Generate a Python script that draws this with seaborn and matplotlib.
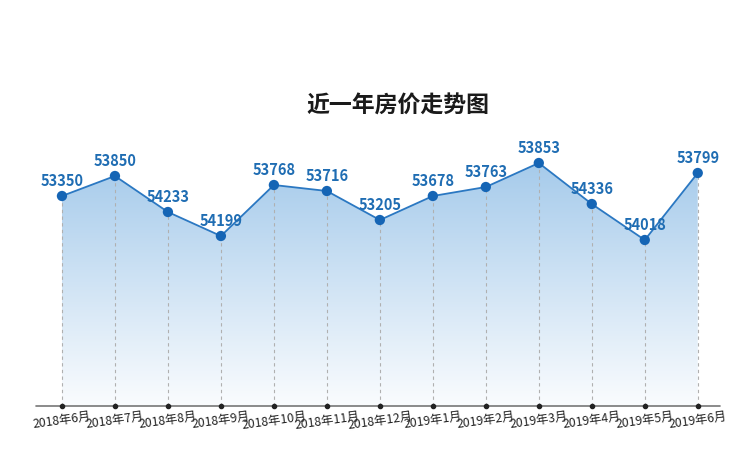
import numpy as np
import pandas as pd
import matplotlib
matplotlib.use("Agg")
import matplotlib.pyplot as plt
import seaborn as sns
from matplotlib.patches import Polygon

# months, price labels and the curve heights as drawn in the picture
months = ["2018年6月", "2018年7月", "2018年8月", "2018年9月", "2018年10月", "2018年11月",
          "2018年12月", "2019年1月", "2019年2月", "2019年3月", "2019年4月", "2019年5月", "2019年6月"]
prices = [53350, 53850, 54233, 54199, 53768, 53716, 53205, 53678, 53763, 53853, 54336, 54018, 53799]
levels = [210, 230, 194, 170, 221, 215, 186, 210, 219, 243, 202, 166, 233]

df = pd.DataFrame({"month": months, "price": prices, "level": levels})
df["pos"] = range(len(df))

sns.set_theme(style="white")
plt.rcParams['font.family'] = ['Noto Sans CJK SC', 'DejaVu Sans']

fig = plt.figure(figsize=(7.4, 4.62), dpi=100)
ax = fig.add_axes([36 / 740, 56 / 462, 684 / 740, 266 / 462])

line_col = "#2b78c2"
dot_col = "#1565b5"

# gradient fill under the curve
grad = np.linspace(0, 1, 256).reshape(-1, 1)
cmap = matplotlib.colors.LinearSegmentedColormap.from_list("g", ["#fafcfe", "#a6cbeb"])
im = ax.imshow(grad, extent=[0, 12, 0, max(levels)], origin="lower", aspect="auto",
               cmap=cmap, zorder=1)
poly = Polygon(list(zip(df["pos"], df["level"])) + [(12, 0), (0, 0)], closed=True,
               facecolor="none", edgecolor="none")
ax.add_patch(poly)
im.set_clip_path(poly)

# dashed drops to the axis
ax.vlines(df["pos"], 0, df["level"], colors="#b0b0b0", linestyles=(0, (3, 3)), lw=0.8, zorder=2)

sns.lineplot(data=df, x="pos", y="level", color=line_col, lw=1.3, ax=ax, zorder=3)
ax.scatter(df["pos"], df["level"], s=55, color=dot_col, zorder=4, edgecolors="none")

for x, y, p in zip(df["pos"], df["level"], df["price"]):
    ax.annotate(str(p), (x, y), xytext=(0, 11), textcoords="offset points",
                ha="center", va="center", fontsize=10.5, fontweight="heavy",
                color="#1f6db3", zorder=5)

# axis line with tick dots
ax.axhline(0, color="#777777", lw=1.2, zorder=2, clip_on=False)
ax.scatter(df["pos"], [0] * len(df), s=9, color="#222222", zorder=4, clip_on=False)

ax.set_xlim(-0.49, 12.42)
ax.set_ylim(0, 266)
ax.set_xticks(df["pos"])
ax.set_xticklabels(months, rotation=8, ha="center", fontsize=8.8, color="#222222")
ax.tick_params(axis="x", length=0, pad=3)
ax.set_yticks([])
ax.set_xlabel("")
ax.set_ylabel("")
for s in ax.spines.values():
    s.set_visible(False)

fig.text(398 / 740, 1 - 106 / 462, "近一年房价走势图", ha="center", va="center",
         fontsize=16.5, fontweight="heavy", color="#1a1a1a")

fig.savefig("out.png", dpi=100, facecolor="white")
